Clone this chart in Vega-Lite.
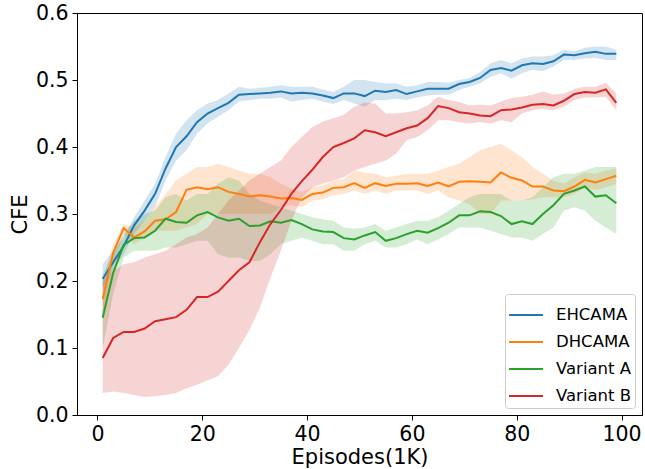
{
  "$schema": "https://vega.github.io/schema/vega-lite/v6.json",
  "autosize": "none",
  "width": 565,
  "height": 402,
  "padding": {"left": 77, "top": 13, "right": 3, "bottom": 54},
  "background": "white",
  "config": {
    "font": "DejaVu Sans",
    "view": {"stroke": "black", "strokeWidth": 1},
    "axis": {"grid": false, "domainColor": "black", "tickColor": "black", "labelColor": "black", "titleColor": "black", "labelFont": "DejaVu Sans", "titleFont": "DejaVu Sans", "labelFontSize": 20.5, "titleFontSize": 21, "titleFontWeight": "normal", "tickSize": 5, "labelPadding": 4},
    "legend": {"orient": "bottom-right", "offset": 7, "symbolType": "stroke", "symbolSize": 1156, "symbolStrokeWidth": 2, "labelFontSize": 16.5, "labelFont": "DejaVu Sans", "labelColor": "black", "labelOffset": 12, "rowPadding": 0, "padding": 3, "titlePadding": 0, "strokeColor": "#cccccc", "fillColor": "white", "cornerRadius": 3}
  },
  "data": {"values": [
{"s":"EHCAMA","x":1,"m":0.203,"lo":0.19,"hi":0.225},
{"s":"EHCAMA","x":3,"m":0.228,"lo":0.215,"hi":0.245},
{"s":"EHCAMA","x":5,"m":0.252,"lo":0.24,"hi":0.265},
{"s":"EHCAMA","x":7,"m":0.283,"lo":0.27,"hi":0.295},
{"s":"EHCAMA","x":9,"m":0.305,"lo":0.29,"hi":0.32},
{"s":"EHCAMA","x":11,"m":0.33,"lo":0.31,"hi":0.345},
{"s":"EHCAMA","x":13,"m":0.368,"lo":0.35,"hi":0.385},
{"s":"EHCAMA","x":15,"m":0.4,"lo":0.38,"hi":0.42},
{"s":"EHCAMA","x":17,"m":0.416,"lo":0.395,"hi":0.44},
{"s":"EHCAMA","x":19,"m":0.437,"lo":0.42,"hi":0.455},
{"s":"EHCAMA","x":21,"m":0.45,"lo":0.435,"hi":0.465},
{"s":"EHCAMA","x":23,"m":0.458,"lo":0.445,"hi":0.47},
{"s":"EHCAMA","x":25,"m":0.466,"lo":0.455,"hi":0.48},
{"s":"EHCAMA","x":27,"m":0.478,"lo":0.468,"hi":0.49},
{"s":"EHCAMA","x":29,"m":0.479,"lo":0.47,"hi":0.487},
{"s":"EHCAMA","x":31,"m":0.48,"lo":0.472,"hi":0.488},
{"s":"EHCAMA","x":33,"m":0.481,"lo":0.472,"hi":0.49},
{"s":"EHCAMA","x":35,"m":0.483,"lo":0.474,"hi":0.492},
{"s":"EHCAMA","x":37,"m":0.48,"lo":0.468,"hi":0.49},
{"s":"EHCAMA","x":39,"m":0.481,"lo":0.47,"hi":0.49},
{"s":"EHCAMA","x":41,"m":0.48,"lo":0.472,"hi":0.49},
{"s":"EHCAMA","x":43,"m":0.477,"lo":0.468,"hi":0.486},
{"s":"EHCAMA","x":45,"m":0.473,"lo":0.464,"hi":0.482},
{"s":"EHCAMA","x":47,"m":0.48,"lo":0.47,"hi":0.49},
{"s":"EHCAMA","x":49,"m":0.48,"lo":0.465,"hi":0.5},
{"s":"EHCAMA","x":51,"m":0.476,"lo":0.46,"hi":0.5},
{"s":"EHCAMA","x":53,"m":0.484,"lo":0.47,"hi":0.497},
{"s":"EHCAMA","x":55,"m":0.482,"lo":0.47,"hi":0.495},
{"s":"EHCAMA","x":57,"m":0.485,"lo":0.472,"hi":0.495},
{"s":"EHCAMA","x":59,"m":0.479,"lo":0.47,"hi":0.49},
{"s":"EHCAMA","x":61,"m":0.483,"lo":0.474,"hi":0.492},
{"s":"EHCAMA","x":63,"m":0.487,"lo":0.477,"hi":0.497},
{"s":"EHCAMA","x":65,"m":0.487,"lo":0.478,"hi":0.497},
{"s":"EHCAMA","x":67,"m":0.487,"lo":0.478,"hi":0.496},
{"s":"EHCAMA","x":69,"m":0.494,"lo":0.485,"hi":0.5},
{"s":"EHCAMA","x":71,"m":0.497,"lo":0.49,"hi":0.503},
{"s":"EHCAMA","x":73,"m":0.503,"lo":0.495,"hi":0.512},
{"s":"EHCAMA","x":75,"m":0.515,"lo":0.505,"hi":0.525},
{"s":"EHCAMA","x":77,"m":0.518,"lo":0.51,"hi":0.53},
{"s":"EHCAMA","x":79,"m":0.514,"lo":0.502,"hi":0.525},
{"s":"EHCAMA","x":81,"m":0.522,"lo":0.51,"hi":0.532},
{"s":"EHCAMA","x":83,"m":0.525,"lo":0.515,"hi":0.535},
{"s":"EHCAMA","x":85,"m":0.524,"lo":0.513,"hi":0.535},
{"s":"EHCAMA","x":87,"m":0.528,"lo":0.52,"hi":0.537},
{"s":"EHCAMA","x":89,"m":0.538,"lo":0.53,"hi":0.545},
{"s":"EHCAMA","x":91,"m":0.537,"lo":0.53,"hi":0.543},
{"s":"EHCAMA","x":93,"m":0.54,"lo":0.532,"hi":0.548},
{"s":"EHCAMA","x":95,"m":0.542,"lo":0.533,"hi":0.55},
{"s":"EHCAMA","x":97,"m":0.539,"lo":0.53,"hi":0.55},
{"s":"EHCAMA","x":99,"m":0.539,"lo":0.53,"hi":0.545},
{"s":"DHCAMA","x":1,"m":0.173,"lo":0.15,"hi":0.2},
{"s":"DHCAMA","x":3,"m":0.242,"lo":0.225,"hi":0.255},
{"s":"DHCAMA","x":5,"m":0.279,"lo":0.27,"hi":0.285},
{"s":"DHCAMA","x":7,"m":0.265,"lo":0.255,"hi":0.28},
{"s":"DHCAMA","x":9,"m":0.274,"lo":0.265,"hi":0.29},
{"s":"DHCAMA","x":11,"m":0.29,"lo":0.275,"hi":0.31},
{"s":"DHCAMA","x":13,"m":0.292,"lo":0.275,"hi":0.33},
{"s":"DHCAMA","x":15,"m":0.303,"lo":0.275,"hi":0.35},
{"s":"DHCAMA","x":17,"m":0.336,"lo":0.28,"hi":0.36},
{"s":"DHCAMA","x":19,"m":0.34,"lo":0.285,"hi":0.37},
{"s":"DHCAMA","x":21,"m":0.337,"lo":0.3,"hi":0.37},
{"s":"DHCAMA","x":23,"m":0.34,"lo":0.3,"hi":0.375},
{"s":"DHCAMA","x":25,"m":0.333,"lo":0.3,"hi":0.37},
{"s":"DHCAMA","x":27,"m":0.33,"lo":0.3,"hi":0.365},
{"s":"DHCAMA","x":29,"m":0.326,"lo":0.3,"hi":0.36},
{"s":"DHCAMA","x":31,"m":0.328,"lo":0.3,"hi":0.36},
{"s":"DHCAMA","x":33,"m":0.326,"lo":0.3,"hi":0.355},
{"s":"DHCAMA","x":35,"m":0.323,"lo":0.31,"hi":0.345},
{"s":"DHCAMA","x":37,"m":0.324,"lo":0.313,"hi":0.338},
{"s":"DHCAMA","x":39,"m":0.321,"lo":0.31,"hi":0.333},
{"s":"DHCAMA","x":41,"m":0.33,"lo":0.32,"hi":0.34},
{"s":"DHCAMA","x":43,"m":0.332,"lo":0.322,"hi":0.343},
{"s":"DHCAMA","x":45,"m":0.339,"lo":0.328,"hi":0.35},
{"s":"DHCAMA","x":47,"m":0.34,"lo":0.33,"hi":0.352},
{"s":"DHCAMA","x":49,"m":0.346,"lo":0.335,"hi":0.365},
{"s":"DHCAMA","x":51,"m":0.339,"lo":0.33,"hi":0.362},
{"s":"DHCAMA","x":53,"m":0.346,"lo":0.335,"hi":0.36},
{"s":"DHCAMA","x":55,"m":0.342,"lo":0.33,"hi":0.355},
{"s":"DHCAMA","x":57,"m":0.345,"lo":0.335,"hi":0.357},
{"s":"DHCAMA","x":59,"m":0.345,"lo":0.335,"hi":0.36},
{"s":"DHCAMA","x":61,"m":0.346,"lo":0.335,"hi":0.36},
{"s":"DHCAMA","x":63,"m":0.342,"lo":0.33,"hi":0.36},
{"s":"DHCAMA","x":65,"m":0.347,"lo":0.335,"hi":0.365},
{"s":"DHCAMA","x":67,"m":0.341,"lo":0.325,"hi":0.37},
{"s":"DHCAMA","x":69,"m":0.348,"lo":0.32,"hi":0.375},
{"s":"DHCAMA","x":71,"m":0.349,"lo":0.315,"hi":0.385},
{"s":"DHCAMA","x":73,"m":0.348,"lo":0.3,"hi":0.395},
{"s":"DHCAMA","x":75,"m":0.347,"lo":0.3,"hi":0.4},
{"s":"DHCAMA","x":77,"m":0.362,"lo":0.32,"hi":0.405},
{"s":"DHCAMA","x":79,"m":0.354,"lo":0.32,"hi":0.395},
{"s":"DHCAMA","x":81,"m":0.35,"lo":0.32,"hi":0.385},
{"s":"DHCAMA","x":83,"m":0.341,"lo":0.322,"hi":0.37},
{"s":"DHCAMA","x":85,"m":0.341,"lo":0.325,"hi":0.36},
{"s":"DHCAMA","x":87,"m":0.335,"lo":0.325,"hi":0.35},
{"s":"DHCAMA","x":89,"m":0.334,"lo":0.325,"hi":0.345},
{"s":"DHCAMA","x":91,"m":0.341,"lo":0.33,"hi":0.355},
{"s":"DHCAMA","x":93,"m":0.351,"lo":0.34,"hi":0.362},
{"s":"DHCAMA","x":95,"m":0.347,"lo":0.336,"hi":0.36},
{"s":"DHCAMA","x":97,"m":0.352,"lo":0.34,"hi":0.365},
{"s":"DHCAMA","x":99,"m":0.357,"lo":0.345,"hi":0.368},
{"s":"Variant A","x":1,"m":0.145,"lo":0.1,"hi":0.21},
{"s":"Variant A","x":3,"m":0.212,"lo":0.18,"hi":0.24},
{"s":"Variant A","x":5,"m":0.254,"lo":0.235,"hi":0.27},
{"s":"Variant A","x":7,"m":0.264,"lo":0.245,"hi":0.29},
{"s":"Variant A","x":9,"m":0.265,"lo":0.245,"hi":0.3},
{"s":"Variant A","x":11,"m":0.275,"lo":0.245,"hi":0.305},
{"s":"Variant A","x":13,"m":0.293,"lo":0.25,"hi":0.325},
{"s":"Variant A","x":15,"m":0.288,"lo":0.25,"hi":0.33},
{"s":"Variant A","x":17,"m":0.287,"lo":0.255,"hi":0.32},
{"s":"Variant A","x":19,"m":0.298,"lo":0.26,"hi":0.33},
{"s":"Variant A","x":21,"m":0.303,"lo":0.26,"hi":0.33},
{"s":"Variant A","x":23,"m":0.295,"lo":0.24,"hi":0.345},
{"s":"Variant A","x":25,"m":0.29,"lo":0.235,"hi":0.355},
{"s":"Variant A","x":27,"m":0.293,"lo":0.235,"hi":0.35},
{"s":"Variant A","x":29,"m":0.282,"lo":0.23,"hi":0.33},
{"s":"Variant A","x":31,"m":0.283,"lo":0.23,"hi":0.32},
{"s":"Variant A","x":33,"m":0.289,"lo":0.24,"hi":0.315},
{"s":"Variant A","x":35,"m":0.287,"lo":0.255,"hi":0.31},
{"s":"Variant A","x":37,"m":0.291,"lo":0.26,"hi":0.305},
{"s":"Variant A","x":39,"m":0.285,"lo":0.265,"hi":0.3},
{"s":"Variant A","x":41,"m":0.277,"lo":0.26,"hi":0.295},
{"s":"Variant A","x":43,"m":0.274,"lo":0.255,"hi":0.292},
{"s":"Variant A","x":45,"m":0.273,"lo":0.255,"hi":0.29},
{"s":"Variant A","x":47,"m":0.264,"lo":0.245,"hi":0.28},
{"s":"Variant A","x":49,"m":0.262,"lo":0.245,"hi":0.278},
{"s":"Variant A","x":51,"m":0.268,"lo":0.255,"hi":0.28},
{"s":"Variant A","x":53,"m":0.273,"lo":0.26,"hi":0.285},
{"s":"Variant A","x":55,"m":0.26,"lo":0.25,"hi":0.275},
{"s":"Variant A","x":57,"m":0.264,"lo":0.25,"hi":0.28},
{"s":"Variant A","x":59,"m":0.27,"lo":0.255,"hi":0.285},
{"s":"Variant A","x":61,"m":0.275,"lo":0.262,"hi":0.29},
{"s":"Variant A","x":63,"m":0.272,"lo":0.255,"hi":0.29},
{"s":"Variant A","x":65,"m":0.279,"lo":0.262,"hi":0.295},
{"s":"Variant A","x":67,"m":0.287,"lo":0.27,"hi":0.305},
{"s":"Variant A","x":69,"m":0.298,"lo":0.28,"hi":0.315},
{"s":"Variant A","x":71,"m":0.298,"lo":0.28,"hi":0.325},
{"s":"Variant A","x":73,"m":0.304,"lo":0.28,"hi":0.33},
{"s":"Variant A","x":75,"m":0.303,"lo":0.275,"hi":0.33},
{"s":"Variant A","x":77,"m":0.297,"lo":0.27,"hi":0.33},
{"s":"Variant A","x":79,"m":0.285,"lo":0.265,"hi":0.32},
{"s":"Variant A","x":81,"m":0.289,"lo":0.265,"hi":0.32},
{"s":"Variant A","x":83,"m":0.285,"lo":0.26,"hi":0.325},
{"s":"Variant A","x":85,"m":0.3,"lo":0.27,"hi":0.34},
{"s":"Variant A","x":87,"m":0.313,"lo":0.28,"hi":0.355},
{"s":"Variant A","x":89,"m":0.33,"lo":0.305,"hi":0.36},
{"s":"Variant A","x":91,"m":0.335,"lo":0.31,"hi":0.36},
{"s":"Variant A","x":93,"m":0.341,"lo":0.305,"hi":0.365},
{"s":"Variant A","x":95,"m":0.326,"lo":0.29,"hi":0.37},
{"s":"Variant A","x":97,"m":0.328,"lo":0.28,"hi":0.37},
{"s":"Variant A","x":99,"m":0.316,"lo":0.27,"hi":0.37},
{"s":"Variant B","x":1,"m":0.085,"lo":0.033,"hi":0.2},
{"s":"Variant B","x":3,"m":0.115,"lo":0.035,"hi":0.215},
{"s":"Variant B","x":5,"m":0.124,"lo":0.033,"hi":0.225},
{"s":"Variant B","x":7,"m":0.124,"lo":0.03,"hi":0.228},
{"s":"Variant B","x":9,"m":0.129,"lo":0.027,"hi":0.235},
{"s":"Variant B","x":11,"m":0.14,"lo":0.028,"hi":0.24},
{"s":"Variant B","x":13,"m":0.143,"lo":0.03,"hi":0.245},
{"s":"Variant B","x":15,"m":0.146,"lo":0.033,"hi":0.255},
{"s":"Variant B","x":17,"m":0.157,"lo":0.04,"hi":0.265},
{"s":"Variant B","x":19,"m":0.176,"lo":0.045,"hi":0.27},
{"s":"Variant B","x":21,"m":0.176,"lo":0.052,"hi":0.28},
{"s":"Variant B","x":23,"m":0.184,"lo":0.058,"hi":0.3},
{"s":"Variant B","x":25,"m":0.2,"lo":0.075,"hi":0.32},
{"s":"Variant B","x":27,"m":0.216,"lo":0.1,"hi":0.335},
{"s":"Variant B","x":29,"m":0.228,"lo":0.127,"hi":0.35},
{"s":"Variant B","x":31,"m":0.258,"lo":0.16,"hi":0.36},
{"s":"Variant B","x":33,"m":0.285,"lo":0.205,"hi":0.37},
{"s":"Variant B","x":35,"m":0.306,"lo":0.245,"hi":0.38},
{"s":"Variant B","x":37,"m":0.33,"lo":0.29,"hi":0.4},
{"s":"Variant B","x":39,"m":0.349,"lo":0.325,"hi":0.415},
{"s":"Variant B","x":41,"m":0.366,"lo":0.34,"hi":0.43},
{"s":"Variant B","x":43,"m":0.385,"lo":0.345,"hi":0.438},
{"s":"Variant B","x":45,"m":0.4,"lo":0.35,"hi":0.443},
{"s":"Variant B","x":47,"m":0.406,"lo":0.355,"hi":0.448},
{"s":"Variant B","x":49,"m":0.413,"lo":0.365,"hi":0.46},
{"s":"Variant B","x":51,"m":0.425,"lo":0.37,"hi":0.466},
{"s":"Variant B","x":53,"m":0.422,"lo":0.375,"hi":0.465},
{"s":"Variant B","x":55,"m":0.416,"lo":0.38,"hi":0.45},
{"s":"Variant B","x":57,"m":0.422,"lo":0.39,"hi":0.45},
{"s":"Variant B","x":59,"m":0.428,"lo":0.41,"hi":0.452},
{"s":"Variant B","x":61,"m":0.432,"lo":0.415,"hi":0.455},
{"s":"Variant B","x":63,"m":0.443,"lo":0.425,"hi":0.462},
{"s":"Variant B","x":65,"m":0.461,"lo":0.44,"hi":0.475},
{"s":"Variant B","x":67,"m":0.458,"lo":0.44,"hi":0.47},
{"s":"Variant B","x":69,"m":0.452,"lo":0.437,"hi":0.467},
{"s":"Variant B","x":71,"m":0.45,"lo":0.435,"hi":0.462},
{"s":"Variant B","x":73,"m":0.447,"lo":0.437,"hi":0.463},
{"s":"Variant B","x":75,"m":0.446,"lo":0.435,"hi":0.462},
{"s":"Variant B","x":77,"m":0.455,"lo":0.44,"hi":0.468},
{"s":"Variant B","x":79,"m":0.456,"lo":0.437,"hi":0.473},
{"s":"Variant B","x":81,"m":0.459,"lo":0.45,"hi":0.475},
{"s":"Variant B","x":83,"m":0.463,"lo":0.455,"hi":0.478},
{"s":"Variant B","x":85,"m":0.464,"lo":0.457,"hi":0.483},
{"s":"Variant B","x":87,"m":0.462,"lo":0.455,"hi":0.478},
{"s":"Variant B","x":89,"m":0.469,"lo":0.46,"hi":0.48},
{"s":"Variant B","x":91,"m":0.479,"lo":0.47,"hi":0.487},
{"s":"Variant B","x":93,"m":0.482,"lo":0.474,"hi":0.49},
{"s":"Variant B","x":95,"m":0.481,"lo":0.474,"hi":0.49},
{"s":"Variant B","x":97,"m":0.486,"lo":0.475,"hi":0.496},
{"s":"Variant B","x":99,"m":0.466,"lo":0.455,"hi":0.48}
  ]},
  "encoding": {
    "x": {"field": "x", "type": "quantitative", "title": "Episodes(1K)", "scale": {"domain": [-3.9, 103.9], "nice": false, "zero": false}, "axis": {"values": [0, 20, 40, 60, 80, 100], "titlePadding": 2}}
  },
  "layer": [
    {
      "mark": {"type": "area", "opacity": 0.2},
      "encoding": {
        "y": {"field": "lo", "type": "quantitative", "title": "CFE", "scale": {"domain": [0, 0.6], "nice": false}, "axis": {"values": [0, 0.1, 0.2, 0.3, 0.4, 0.5, 0.6], "format": ".1f", "titlePadding": 5}},
        "y2": {"field": "hi"},
        "fill": {"field": "s", "type": "nominal", "legend": null, "scale": {"domain": ["EHCAMA", "DHCAMA", "Variant A", "Variant B"], "range": ["#1f77b4", "#ff7f0e", "#2ca02c", "#d62728"]}}
      }
    },
    {
      "mark": {"type": "line", "strokeWidth": 2},
      "encoding": {
        "y": {"field": "m", "type": "quantitative"},
        "stroke": {"field": "s", "type": "nominal", "title": null, "scale": {"domain": ["EHCAMA", "DHCAMA", "Variant A", "Variant B"], "range": ["#1f77b4", "#ff7f0e", "#2ca02c", "#d62728"]}}
      }
    }
  ],
  "resolve": {"scale": {"fill": "independent", "stroke": "independent"}, "legend": {"stroke": "independent"}}
}
